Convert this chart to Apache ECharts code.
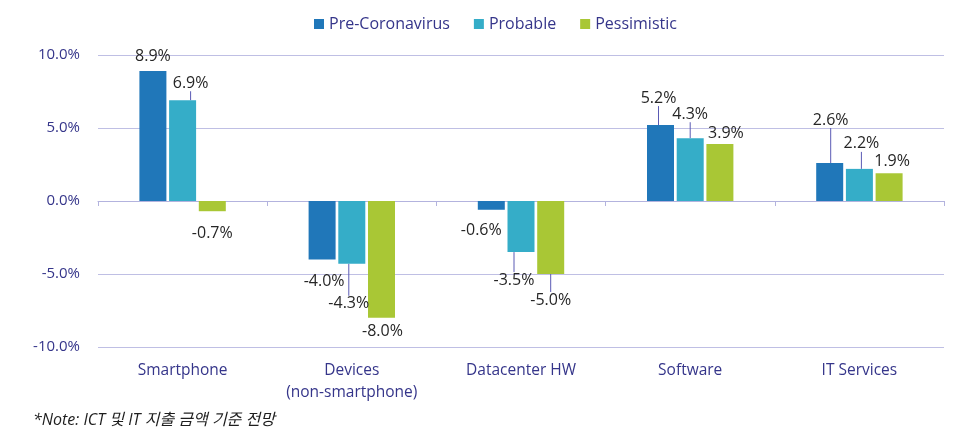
<!DOCTYPE html>
<html>
<head>
<meta charset="utf-8">
<script src="https://cdn.jsdelivr.net/npm/echarts@6/dist/echarts.min.js"></script>
<style>
  html, body { margin: 0; padding: 0; background: #fff; }
  #chart { width: 960px; height: 429px; }
</style>
</head>
<body>
<div id="chart"></div>
<script>
// 데이터
let categories = ['Smartphone', 'Devices\n(non-smartphone)', 'Datacenter HW', 'Software', 'IT Services'];
let seriesNames = ['Pre-Coronavirus', 'Probable', 'Pessimistic'];
let preCorona = [8.9, -4.0, -0.6, 5.2, 2.6];
let probable = [6.9, -4.3, -3.5, 4.3, 2.2];
let pessimistic = [-0.7, -8.0, -5.0, 3.9, 1.9];
let yTicks = [-10, -5, 0, 5, 10];
let noteText = '*Note: ICT 및 IT 지출 금액 기준 전망';

let values = [preCorona, probable, pessimistic];
let colors = ['#2077b9', '#35adc8', '#a9c735'];
let navy = '#35358a';

// 라벨 위치 조정 (막대 끝 중앙 기준 dx, dy) / 지시선 여부
let labelNudge = [
    [[0, -17], [2, 20], [-10, 19], [-2, -29], [1, -45]],
    [[8, -19], [-3, 38], [-7, 26], [0, -26], [2, -27]],
    [[0, 20], [1, 12], [0, 24], [6, -13], [3, -14]]
];
let leaders = [
    [false, false, false, true, true],
    [true, true, true, true, true],
    [false, false, true, false, false]
];

let chart = echarts.init(document.getElementById('chart'));

function makeSeries(s) {
    return {
        name: seriesNames[s],
        type: 'bar',
        barWidth: 27,
        barGap: '10%',
        itemStyle: { color: colors[s] },
        label: {
            show: true,
            position: 'inside',
            color: '#262626',
            fontSize: 16,
            fontFamily: 'Open Sans',
            formatter: function (p) { return p.value.toFixed(1) + '%'; }
        },
        labelLine: { show: false, lineStyle: { color: '#5a5ab4', width: 1 } },
        labelLayout: function (p) {
            let v = values[p.seriesIndex][p.dataIndex];
            let r = p.rect;
            let cx = r.x + r.width / 2;
            let edge = v >= 0 ? Math.min(r.y, r.y + r.height) : Math.max(r.y, r.y + r.height);
            let off = labelNudge[p.seriesIndex][p.dataIndex];
            let lx = cx + off[0], ly = edge + off[1] + 2;
            let out = { x: lx, y: ly, align: 'center', verticalAlign: 'middle' };
            if (leaders[p.seriesIndex][p.dataIndex]) {
                let ey = ly + (v >= 0 ? 12 : -14);
                out.labelLinePoints = [[cx, edge], [lx, ey], [lx, ey]];
            }
            return out;
        },
        data: values[s].map(function (v, i) {
            return leaders[s][i] ? { value: v, labelLine: { show: true } } : v;
        })
    };
}

let option = {
    animation: false,
    backgroundColor: '#fff',
    textStyle: { fontFamily: 'Open Sans' },
    legend: {
        data: seriesNames,
        left: 309,
        top: 11,
        icon: 'rect',
        itemWidth: 10,
        itemHeight: 10,
        itemGap: 24,
        textStyle: { color: navy, fontSize: 16, fontFamily: 'Open Sans' }
    },
    grid: { left: 98, right: 16, top: 55, bottom: 82 },
    xAxis: [
        {
            type: 'category',
            data: categories,
            position: 'bottom',
            axisLine: { show: false, onZero: false },
            axisTick: { show: false },
            axisLabel: {
                color: navy,
                fontSize: 15.5,
                lineHeight: 22,
                margin: 13,
                interval: 0,
                fontFamily: 'Open Sans'
            }
        },
        {
            type: 'category',
            data: categories,
            position: 'bottom',
            axisLine: { show: true, onZero: true, lineStyle: { color: '#b3b3de', width: 1 } },
            axisTick: { show: true, length: 5, lineStyle: { color: '#b3b3de' } },
            axisLabel: { show: false }
        }
    ],
    yAxis: {
        type: 'value',
        min: yTicks[0],
        max: yTicks[yTicks.length - 1],
        interval: 5,
        axisLine: { show: false },
        axisTick: { show: false },
        splitLine: { lineStyle: { color: '#bfbfe4', width: 1 } },
        axisLabel: {
            color: navy,
            fontSize: 15,
            margin: 18,
            fontFamily: 'Open Sans',
            formatter: function (v) { return v.toFixed(1) + '%'; }
        }
    },
    graphic: [{
        type: 'text',
        left: 33,
        top: 412,
        style: {
            text: noteText,
            fill: '#1e1e1e',
            fontSize: 16,
            fontStyle: 'italic',
            fontFamily: 'Open Sans, Noto Sans CJK KR'
        }
    }],
    series: [makeSeries(0), makeSeries(1), makeSeries(2)]
};

chart.setOption(option);
</script>
</body>
</html>
